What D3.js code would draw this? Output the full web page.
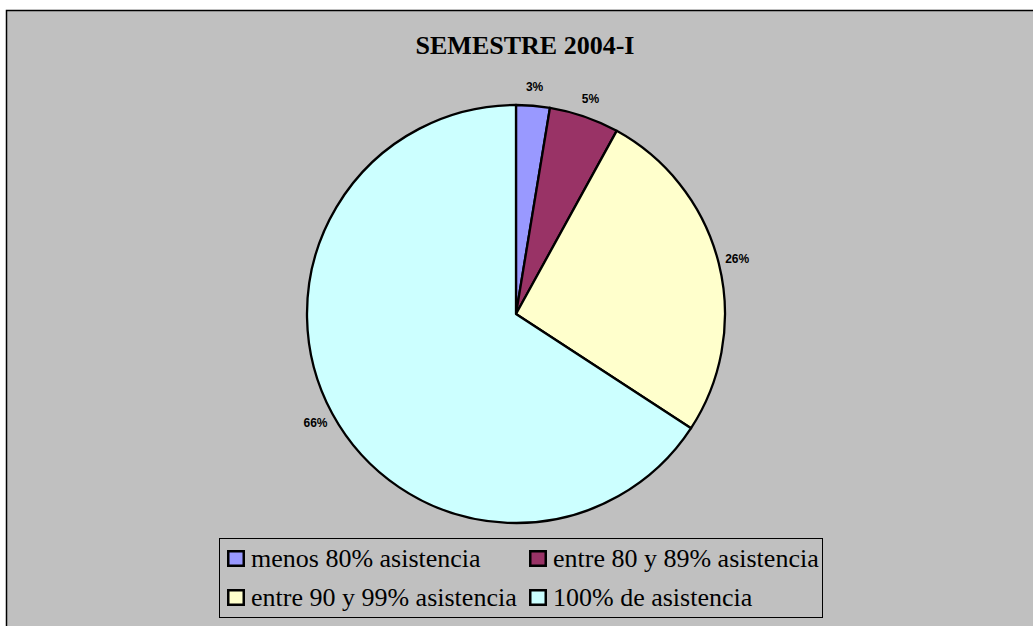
<!DOCTYPE html>
<meta charset="utf-8">
<html>
<script src="https://cdnjs.cloudflare.com/ajax/libs/d3/7.8.5/d3.min.js"></script>
<style>
body { margin: 0; background: #fff; }
svg { display: block; }
</style>
<body>
<svg id="chart" width="1033" height="626"></svg>
<script type="text/javascript">

// data
var categories = ["menos 80% asistencia", "entre 80 y 89% asistencia", "entre 90 y 99% asistencia", "100% de asistencia"];
var shares = [2.6, 5.4, 26.2, 65.8];
var labels = ["3%", "5%", "26%", "66%"];
var colours = ["#9999ff", "#993366", "#ffffcc", "#ccffff"];
var title = "SEMESTRE 2004-I";

var svg = d3.select("#chart");

// chart area
svg.append("rect")
	.attr("x", 6.5).attr("y", 10.5)
	.attr("width", 1040).attr("height", 640)
	.attr("fill", "#c0c0c0")
	.attr("stroke", "#000").attr("stroke-width", 1.5);

svg.append("text")
	.attr("x", 525).attr("y", 54)
	.attr("text-anchor", "middle")
	.style("font-family", "'Liberation Serif', 'Times New Roman', serif")
	.style("font-weight", "bold")
	.style("font-size", "26px")
	.text(title);

var cx = 516, cy = 314, r = 209;

var pie = d3.pie().sort(null).value(function(d) { return d; });
var arcs = pie(shares);
var arc = d3.arc().innerRadius(0).outerRadius(r);
var labelArc = d3.arc().innerRadius(228).outerRadius(228);

var g = svg.append("g").attr("transform", "translate(" + cx + "," + cy + ")");

g.selectAll("path")
	.data(arcs)
	.enter()
	.append("path")
	.attr("d", arc)
	.attr("fill", function(d, i) { return colours[i]; })
	.attr("stroke", "#000")
	.attr("stroke-width", 2.3)
	.attr("stroke-linejoin", "round");

g.selectAll("text.lbl")
	.data(arcs)
	.enter()
	.append("text")
	.attr("class", "lbl")
	.attr("transform", function(d) { return "translate(" + labelArc.centroid(d) + ")"; })
	.attr("text-anchor", "middle")
	.attr("dy", "0.35em")
	.style("font-family", "'Liberation Sans', Arial, sans-serif")
	.style("font-weight", "bold")
	.style("font-size", "12px")
	.text(function(d, i) { return labels[i]; });

// legend
var legend = svg.append("g");
legend.append("rect")
	.attr("x", 219.5).attr("y", 538.5)
	.attr("width", 603).attr("height", 79)
	.attr("fill", "#c0c0c0")
	.attr("stroke", "#000").attr("stroke-width", 1);

var colX = [227, 529], rowY = [550, 589];

var item = legend.selectAll("g.item")
	.data(categories)
	.enter()
	.append("g")
	.attr("class", "item")
	.attr("transform", function(d, i) { return "translate(" + colX[i % 2] + "," + rowY[Math.floor(i / 2)] + ")"; });

item.append("rect")
	.attr("x", 1.25).attr("y", 1.25)
	.attr("width", 15.5).attr("height", 14.5)
	.attr("fill", function(d, i) { return colours[i]; })
	.attr("stroke", "#000").attr("stroke-width", 2.5);

item.append("text")
	.attr("x", 24).attr("y", 17)
	.style("font-family", "'Liberation Serif', 'Times New Roman', serif")
	.style("font-size", "26px")
	.text(function(d) { return d; });

</script>
</body>
</html>
